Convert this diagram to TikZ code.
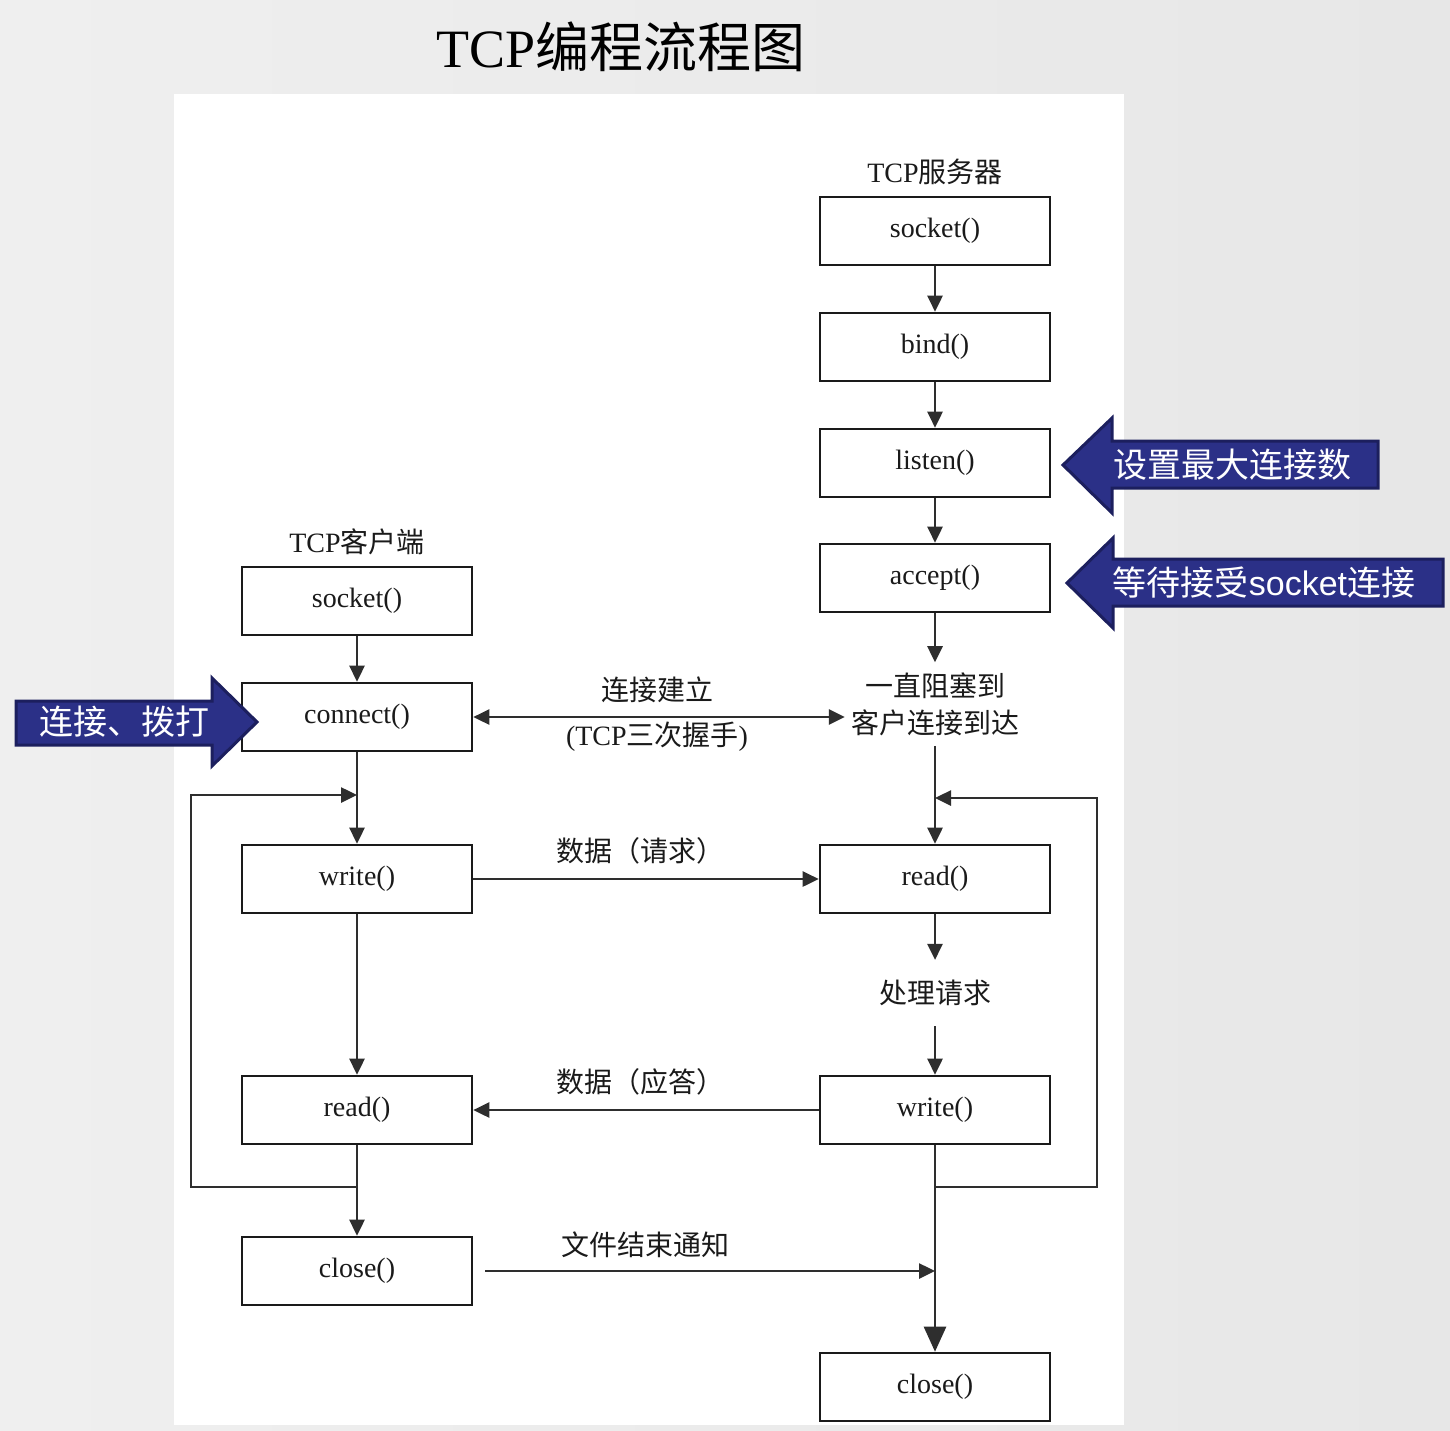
\documentclass[tikz,border=0pt]{standalone}
\usepackage{fontspec}
\setmainfont{Liberation Serif}
\newfontfamily\cjkfont{Noto Sans CJK SC}
\newfontfamily\calloutlatin{Liberation Sans}
\usetikzlibrary{arrows.meta}

\newcommand\zhtext[1]{{\cjkfont #1}}

\definecolor{pagebg}{HTML}{EFEFEF}
\definecolor{pagebgdark}{HTML}{E7E7E7}
\definecolor{navyfill}{HTML}{2B3087}
\definecolor{navyedge}{HTML}{1C1F5E}
\definecolor{ink}{HTML}{1A1A1A}
\definecolor{wire}{HTML}{2E2E2E}

\tikzset{
  fnbox/.style={draw=ink, line width=2.6pt, fill=white,
    minimum width=230pt, minimum height=68pt, inner sep=0pt,
    font=\fontsize{28}{30}\selectfont, text=ink},
  caption/.style={inner sep=0pt, text=ink, font=\fontsize{28}{37}\selectfont},
  conn/.style={draw=wire, line width=2.6pt},
  arr/.style={-{Triangle[length=16pt,width=15pt]}},
  bigarr/.style={-{Triangle[length=25pt,width=22pt]}},
  callout/.style={fill=navyfill, draw=navyedge, line width=3pt, line join=miter},
  callouttext/.style={inner sep=0pt, text=white, font=\fontsize{34}{38}\selectfont},
}

\begin{document}
\begin{tikzpicture}[x=1pt,y=-1pt]
  % page background and white panel
  \useasboundingbox (0,0) rectangle (1450,1430);
  \shade[left color=pagebg, right color=pagebgdark] (0,0) rectangle (1450,1430);
  \fill[white] (174,94) rectangle (1124,1425);

  % title
  \node[inner sep=0pt, text=black, font=\fontsize{54}{60}\selectfont] (title) at (621,47)
    {TCP\zhtext{编程流程图}};

  % server column
  \node[caption] (srvlabel) at (935,172) {TCP\zhtext{服务器}};
  \node[fnbox] (s1) at (935,231) {socket()};
  \node[fnbox] (s2) at (935,347) {bind()};
  \node[fnbox] (s3) at (935,463) {listen()};
  \node[fnbox] (s4) at (935,578) {accept()};
  \node[caption, align=center, inner xsep=6pt, inner ysep=10pt] (block) at (935,704)
    {\zhtext{一直阻塞到}\\\zhtext{客户连接到达}};
  \node[fnbox] (sr) at (935,879) {read()};
  \node[caption, inner xsep=4pt, inner ysep=20pt] (proc) at (935,993) {\zhtext{处理请求}};
  \node[fnbox] (sw) at (935,1110) {write()};
  \node[fnbox] (sc) at (935,1387) {close()};

  % client column
  \node[caption] (clilabel) at (357,542) {TCP\zhtext{客户端}};
  \node[fnbox] (c1) at (357,601) {socket()};
  \node[fnbox] (c2) at (357,717) {connect()};
  \node[fnbox] (cw) at (357,879) {write()};
  \node[fnbox] (cr) at (357,1110) {read()};
  \node[fnbox] (cc) at (357,1271) {close()};

  % message labels
  \node[caption] (lbl1) at (657,690) {\zhtext{连接建立}};
  \node[caption] (lbl2) at (657,737) {(TCP\zhtext{三次握手})};
  \node[caption] (lbl3) at (640,851) {\zhtext{数据（请求）}};
  \node[caption] (lbl4) at (640,1082) {\zhtext{数据（应答）}};
  \node[caption] (lbl5) at (645,1245) {\zhtext{文件结束通知}};

  % loop corner points
  \coordinate (sjoin) at (935,1187);
  \coordinate (rc1) at (1097,1187);
  \coordinate (rc2) at (1097,798);
  \coordinate (rtop) at (935,798);
  \coordinate (cjoin) at (357,1187);
  \coordinate (lc1) at (191,1187);
  \coordinate (lc2) at (191,795);
  \coordinate (ltop) at (357,795);
  \coordinate (eofend) at (935,1271);

  % server flow
  \draw[conn,arr] (s1) -- (s2);
  \draw[conn,arr] (s2) -- (s3);
  \draw[conn,arr] (s3) -- (s4);
  \draw[conn,arr] (s4) -- (block);
  \draw[conn,arr] (block) -- (sr);
  \draw[conn,arr] (sr) -- (proc);
  \draw[conn,arr] (proc) -- (sw);
  \draw[conn,bigarr] (sw) -- (sc);
  \draw[conn,arr] (sjoin) -- (rc1) -- (rc2) -- (rtop);

  % client flow
  \draw[conn,arr] (c1) -- (c2);
  \draw[conn,arr] (c2) -- (cw);
  \draw[conn,arr] (cw) -- (cr);
  \draw[conn,arr] (cr) -- (cc);
  \draw[conn,arr] (cjoin) -- (lc1) -- (lc2) -- (ltop);

  % exchanges between client and server
  \draw[conn,{Triangle[length=16pt,width=15pt]}-{Triangle[length=16pt,width=15pt]}]
    (c2.east) -- (c2.east -| block.west);
  \draw[conn,arr] (cw) -- (sr);
  \draw[conn,arr] (sw) -- (cr);
  \draw[conn,arr] ([xshift=12pt]cc.east) -- (eofend);

  % callout arrows
  \filldraw[callout] (1063,465) -- (1112,418) -- (1112,441) -- (1378,441)
    -- (1378,488) -- (1112,488) -- (1112,513) -- cycle;
  \node[callouttext] (note1) at (1232,465) {\zhtext{设置最大连接数}};

  \filldraw[callout] (1067,583) -- (1113,538) -- (1113,559) -- (1443,559)
    -- (1443,606) -- (1113,606) -- (1113,628) -- cycle;
  \node[callouttext] (note2) at (1264,583)
    {\zhtext{等待接受}{\calloutlatin socket}\zhtext{连接}};

  \filldraw[callout] (16,701) -- (212,701) -- (212,678) -- (257,722)
    -- (212,766) -- (212,745) -- (16,745) -- cycle;
  \node[callouttext] (note3) at (124,722) {\zhtext{连接、拨打}};
\end{tikzpicture}
\end{document}
